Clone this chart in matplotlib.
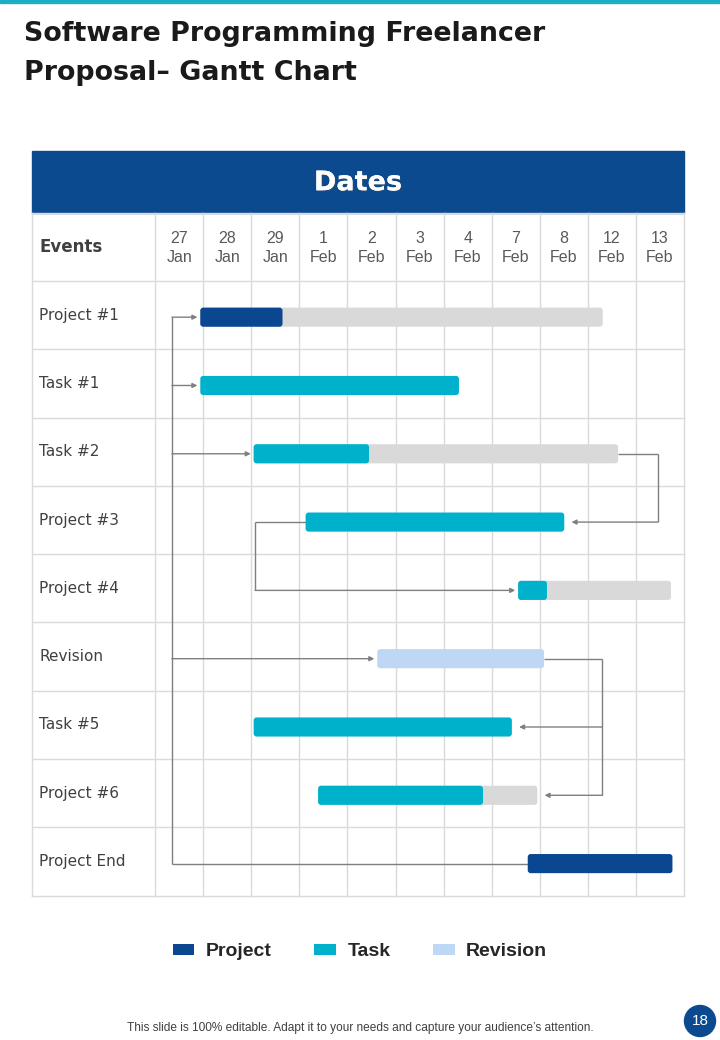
import matplotlib
matplotlib.use("Agg")
import matplotlib.pyplot as plt
from matplotlib.patches import FancyBboxPatch, Rectangle, Ellipse, Patch
import matplotlib.patheffects as pe

# data
dates = ["27\nJan", "28\nJan", "29\nJan", "1\nFeb", "2\nFeb", "3\nFeb",
         "4\nFeb", "7\nFeb", "8\nFeb", "12\nFeb", "13\nFeb"]
events = ["Project #1", "Task #1", "Task #2", "Project #3", "Project #4",
          "Revision", "Task #5", "Project #6", "Project End"]
kinds = ["Project", "Task", "Task", "Task", "Task",
         "Revision", "Task", "Task", "Project"]
# positions in date-column units (0 = left edge of 27 Jan)
bar_start = [0.94, 0.94, 2.05, 3.13, 7.55, 4.62, 2.05, 3.39, 7.75]
done_end = [2.65, 6.32, 4.45, 8.51, 8.15, 8.09, 7.42, 6.82, 10.76]
plan_end = [9.31, 6.32, 9.63, 8.51, 10.73, 8.09, 7.42, 7.95, 10.76]

# dependency links: trunk on the left feeding several rows
trunk_x = 0.35
trunk_rows = [0, 1, 2, 5, 8]
# (source row, leave from "start"/"end", elbow x, target rows)
links = [(2, "end", 10.45, [3]),
         (3, "start", 2.08, [4]),
         (5, "end", 9.30, [6, 7])]

legend_names = ["Project", "Task", "Revision"]

colors = {"Project": "#0B4690", "Task": "#00B1CB", "Revision": "#BDD7F5"}
gray_bar = "#D9D9D9"
grid_col = "#DADADA"
link_col = "#7F7F7F"
header_blue = "#0B4A8F"

W, H = 720, 1040
fig = plt.figure(figsize=(W / 100, H / 100), dpi=100)


def fx(px):
    return px / W


def fy(py):
    return 1 - py / H


# top accent strip
fig.patches.append(Rectangle((0, fy(3)), 1, 3 / H, transform=fig.transFigure,
                             color="#1AAFC3", zorder=0))

fig.text(fx(24), fy(34), "Software Programming Freelancer", fontsize=19.4,
         fontweight="bold", color="#1A1A1A", va="center", ha="left")
fig.text(fx(24), fy(73), "Proposal\u2013 Gantt Chart", fontsize=19.4,
         fontweight="bold", color="#1A1A1A", va="center", ha="left")

# table axes
x0, x1 = -2.56, 11
y_top, y_bot = -1.9, 9
ax = fig.add_axes([fx(32), fy(895.7), fx(684) - fx(32), (895.7 - 151.2) / H])
ax.set_xlim(x0, x1)
ax.set_ylim(y_bot, y_top)
ax.axis("off")

# header band
ax.add_patch(Rectangle((x0, y_top), x1 - x0, -1 - y_top, color=header_blue,
                       zorder=1, clip_on=False))
ax.text((x0 + x1) / 2, (y_top - 1) / 2 + 0.02, "Dates", color="white",
        fontsize=19.5, fontweight="bold", ha="center", va="center", zorder=3,
        path_effects=[pe.withSimplePatchShadow(offset=(1, -1), alpha=0.35),
                      pe.Normal()])

# grid
for y in range(0, len(events) + 1):
    ax.plot([x0, x1], [y, y], color=grid_col, lw=1, zorder=1, clip_on=False)
ax.plot([x0, x1], [-1, -1], color=grid_col, lw=1, zorder=1, clip_on=False)
for x in [x0] + list(range(0, len(dates) + 1)):
    ax.plot([x, x], [-1, len(events)], color=grid_col, lw=1, zorder=1,
            clip_on=False)

# column headers
ax.text(x0 + 0.15, -0.5, "Events", fontsize=12, fontweight="bold",
        color="#404040", ha="left", va="center")
for i, d in enumerate(dates):
    ax.text(i + 0.5, -0.48, d, fontsize=11.5, color="#595959", ha="center",
            va="center", family="Liberation Sans", linespacing=1.35)

# row labels
for r, name in enumerate(events):
    ax.text(x0 + 0.15, r + 0.5, name, fontsize=11, color="#404040",
            ha="left", va="center")

# bars
bh = 0.28
rs = 0.062
asp = (3 / 68.3) / (3 / 48.08)


def rbar(xa, xb, yc, col, z):
    ax.add_patch(FancyBboxPatch((xa, yc - bh / 2), xb - xa, bh,
                                boxstyle=f"round,pad=0,rounding_size={rs}",
                                mutation_aspect=asp, fc=col, ec="none",
                                zorder=z))


for r in range(len(events)):
    yc = r + 0.53
    if plan_end[r] > done_end[r]:
        rbar(bar_start[r], plan_end[r], yc, gray_bar, 3)
    rbar(bar_start[r], done_end[r], yc, colors[kinds[r]], 4)

# connectors
lw = 1.0


def seg(xs, ys):
    ax.plot(xs, ys, color=link_col, lw=lw, zorder=2, solid_capstyle="butt")


def arrow(xa, xb, y):
    ax.annotate("", xy=(xb, y), xytext=(xa, y),
                arrowprops=dict(arrowstyle="-|>", color=link_col, lw=lw,
                                mutation_scale=7, shrinkA=0, shrinkB=0),
                zorder=2)


ys = [r + 0.53 for r in trunk_rows]
seg([trunk_x, trunk_x], [min(ys), max(ys)])
for r in trunk_rows[:-1]:
    arrow(trunk_x, bar_start[r] - 0.06, r + 0.53)
last = trunk_rows[-1]
seg([trunk_x, bar_start[last]], [last + 0.53, last + 0.53])

for src, side, ex, targets in links:
    sy = src + 0.53
    sx = plan_end[src] if side == "end" else bar_start[src]
    seg([sx, ex], [sy, sy])
    ty = [t + 0.53 for t in targets]
    seg([ex, ex], [sy, max(ty)])
    for t in targets:
        if ex > plan_end[t]:
            arrow(ex, plan_end[t] + 0.15, t + 0.53)
        else:
            arrow(ex, bar_start[t] - 0.06, t + 0.53)

# legend
handles = [Patch(fc=colors[k], ec="none") for k in legend_names]
fig.legend(handles, legend_names, loc="center", bbox_to_anchor=(0.5, fy(952)),
           ncol=3, frameon=False, handlelength=1.1, handleheight=0.45,
           handletextpad=0.6, columnspacing=2.2,
           prop={"family": "Liberation Sans", "weight": "bold", "size": 14})
for t in fig.legends[0].get_texts():
    t.set_color("#262626")

# footer
fig.text(fx(360), fy(1028), "This slide is 100% editable. Adapt it to your needs "
         "and capture your audience\u2019s attention.", fontsize=8.6,
         family="Liberation Sans", color="#404040", ha="center", va="center")
fig.patches.append(Ellipse((fx(700), fy(1021)), 31 / W, 31 / H,
                           transform=fig.transFigure, color=header_blue))
fig.text(fx(700), fy(1021), "18", fontsize=11, color="white", ha="center",
         va="center", family="Liberation Sans")

fig.savefig("out.png", dpi=100)
